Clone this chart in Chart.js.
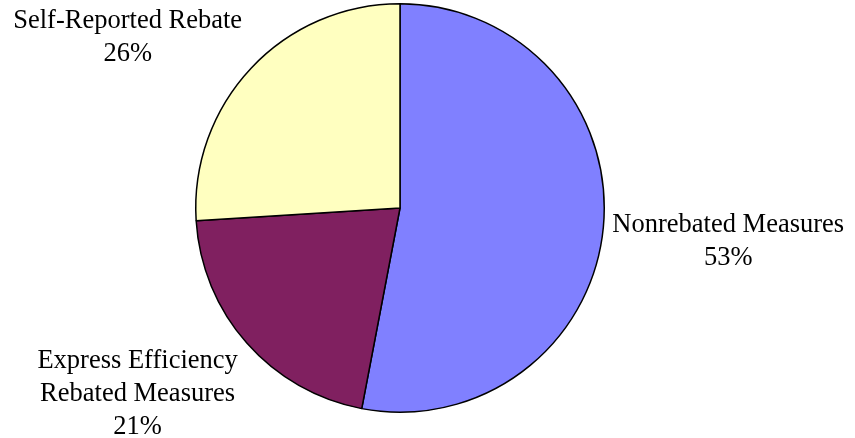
<!DOCTYPE html>
<html>
<head>
<meta charset="utf-8">
<script src="https://cdn.jsdelivr.net/npm/chart.js@4"></script>
<style>
  html, body { margin: 0; padding: 0; background: #fff; }
  #wrap { width: 855px; height: 438px; }
</style>
</head>
<body>
<div id="wrap"><canvas id="myChart" width="855" height="438"></canvas></div>
<script>
// savings share by program type
var labelsPrograma = [['Nonrebated Measures'], ['Express Efficiency', 'Rebated Measures'], ['Self-Reported Rebate']]
var porcentajes = [53, 21, 26]
var colores = ['#8080FF', '#802060', '#FFFFC0']

// draws the outside labels next to each slice
var etiquetas = {
  id: 'etiquetas',
  afterDraw: function (chart) {
    var ctx = chart.ctx
    var meta = chart.getDatasetMeta(0)
    var total = porcentajes.reduce(function (a, b) { return a + b }, 0)
    var fontSize = 26.5
    var lineH = 33
    ctx.save()
    ctx.font = fontSize + 'px "Liberation Serif", "Times New Roman", serif'
    ctx.fillStyle = '#000'
    ctx.textBaseline = 'middle'
    ctx.textAlign = 'center'
    meta.data.forEach(function (arc, i) {
      var p = arc.getProps(['x', 'y', 'startAngle', 'endAngle', 'outerRadius'], true)
      var mid = (p.startAngle + p.endAngle) / 2
      var cos = Math.cos(mid), sin = Math.sin(mid)
      var px = p.x + cos * p.outerRadius
      var py = p.y + sin * p.outerRadius
      var lines = labelsPrograma[i].concat([Math.round(porcentajes[i] / total * 100) + '%'])
      var w = 0
      lines.forEach(function (l) { w = Math.max(w, ctx.measureText(l).width) })
      var h = (lines.length * lineH) / 2
      var gap = 9
      // push the block away from the slice edge, more vertically the steeper the angle
      var f = (sin < 0 ? -1 : 1) * Math.sqrt(Math.min(1, Math.abs(sin) * 1.5))
      var cx = px + (cos >= 0 ? 1 : -1) * (gap + w / 2)
      var cy = py + h * f + 2
      lines.forEach(function (l, k) {
        ctx.fillText(l, cx, cy - h + lineH / 2 + k * lineH)
      })
    })
    ctx.restore()
  }
}

var ctx = document.getElementById('myChart').getContext('2d')
var chart1 = new Chart(ctx, {
  type: 'pie',
  data: {
    labels: labelsPrograma.map(function (l) { return l.join(' ') }),
    datasets: [{
      data: porcentajes,
      backgroundColor: colores,
      borderColor: '#000',
      borderWidth: 1.5
    }]
  },
  options: {
    responsive: false,
    animation: false,
    layout: { padding: { top: 3, bottom: 25, left: 0, right: 55 } },
    plugins: {
      legend: { display: false },
      tooltip: { enabled: false }
    }
  },
  plugins: [etiquetas]
})
</script>
</body>
</html>
